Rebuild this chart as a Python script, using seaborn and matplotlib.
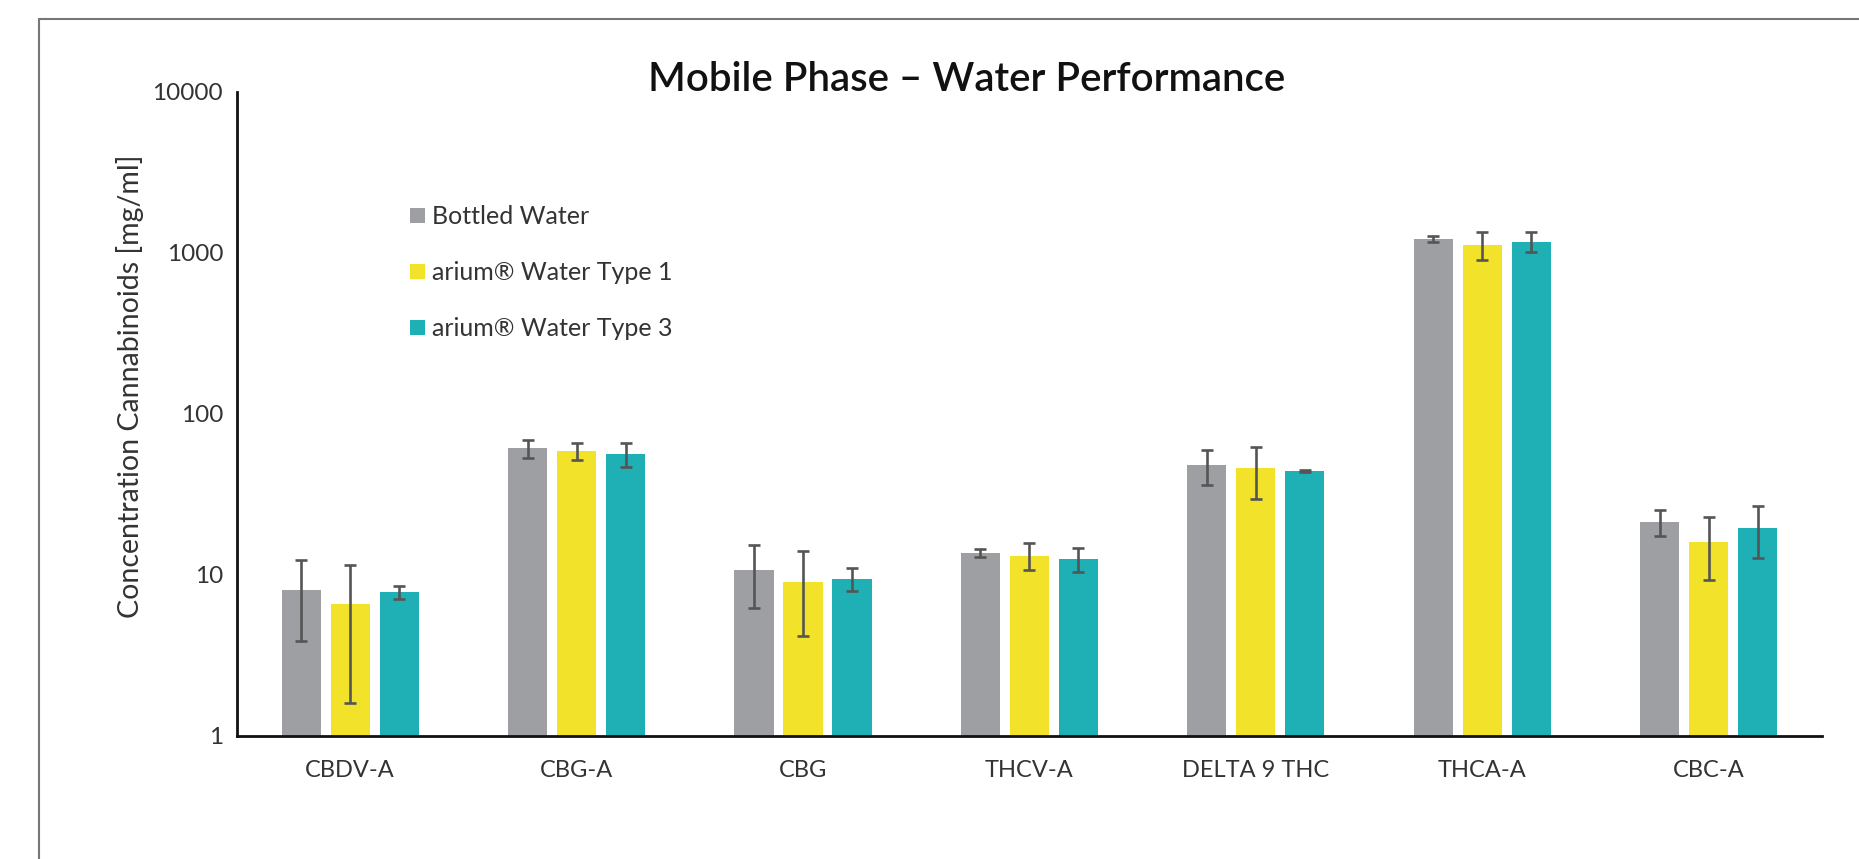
import matplotlib
matplotlib.use("Agg")
import matplotlib.pyplot as plt
from matplotlib.patches import Rectangle
import seaborn as sns
import pandas as pd
import numpy as np

# ---- data ----
compounds = ["CBDV-A", "CBG-A", "CBG", "THCV-A", "DELTA 9 THC", "THCA-A", "CBC-A"]
water_types = ["Bottled Water", "arium® Water Type 1", "arium® Water Type 3"]
bottled = [8.1, 61.0, 10.8, 13.7, 47.9, 1221, 21.4]
type1 = [6.6, 58.9, 9.1, 13.2, 46.1, 1125, 16.1]
type3 = [7.8, 56.6, 9.5, 12.6, 44.4, 1175, 19.7]
err_bottled = [4.2, 7.5, 4.6, 0.8, 11.5, 50, 3.9]
err_type1 = [5.0, 7.3, 4.9, 2.5, 16.5, 220, 6.8]
err_type3 = [0.7, 9.7, 1.6, 2.2, 0.6, 170, 6.9]
y_ticks = [1, 10, 100, 1000, 10000]
y_tick_labels = ["1", "10", "100", "1000", "10000"]

colors = ["#9E9FA2", "#F2E32A", "#1EB0B5"]

df = pd.DataFrame({
    "compound": compounds * 3,
    "water": [w for w in water_types for _ in compounds],
    "value": bottled + type1 + type3,
})
errs = [err_bottled, err_type1, err_type3]

sns.set_theme(style="white")
plt.rcParams["font.family"] = ["Lato", "DejaVu Sans"]

fig = plt.figure(figsize=(18.59, 8.59), dpi=100)
ax = fig.add_axes([0.1275, 0.1432, 0.8525, 0.750])

sns.barplot(data=df, x="compound", y="value", hue="water", hue_order=water_types,
            order=compounds, palette=colors, width=0.65, gap=0.2, errorbar=None,
            saturation=1, ax=ax, linewidth=0)

for cont, e in zip(ax.containers, errs):
    xs = [p.get_x() + p.get_width() / 2 for p in cont.patches]
    hs = [p.get_height() for p in cont.patches]
    ax.errorbar(xs, hs, yerr=e, fmt="none", ecolor="#555555", elinewidth=1.9,
                capsize=4.5, capthick=1.9, zorder=5)

ax.set_yscale("log")
ax.set_ylim(1, 10000)
ax.set_xlim(-0.5, len(compounds) - 0.5)
ax.set_yticks(y_ticks)
ax.set_yticklabels(y_tick_labels)
ax.yaxis.set_minor_locator(matplotlib.ticker.NullLocator())
ax.tick_params(axis="y", direction="in", length=6, width=1.5, color="#AAAAAA",
               labelsize=17.5, labelcolor="#333333", pad=10)
ax.tick_params(axis="x", length=0, labelsize=17, labelcolor="#333333", pad=17)

for s in ["top", "right"]:
    ax.spines[s].set_visible(False)
ax.spines["left"].set_color("#111111")
ax.spines["bottom"].set_color("#111111")
ax.spines["left"].set_linewidth(2.0)
ax.spines["bottom"].set_linewidth(2.0)

ax.set_xlabel("")
ax.set_ylabel("Concentration Cannabinoids [mg/ml]", fontsize=20.5, color="#333333")
ax.yaxis.set_label_coords(-0.059, 0.543)

handles, labels = ax.get_legend_handles_labels()
ax.legend(handles, labels, loc="upper left", bbox_to_anchor=(0.2205, 0.761),
          bbox_transform=fig.transFigure, frameon=False,
          handlelength=0.6, handleheight=0.6, handletextpad=0.3,
          labelspacing=1.32, borderpad=0, borderaxespad=0,
          prop={"size": 18}, labelcolor="#333333")

fig.text(0.520, 0.908, "Mobile Phase – Water Performance", ha="center", va="center",
         fontsize=29, fontweight="semibold", color="#111111")

fig.add_artist(Rectangle((0.021, -0.05), 1.2, 1.028, transform=fig.transFigure,
                         fill=False, edgecolor="#777777", linewidth=1.5))

fig.savefig("out.png", dpi=100)
